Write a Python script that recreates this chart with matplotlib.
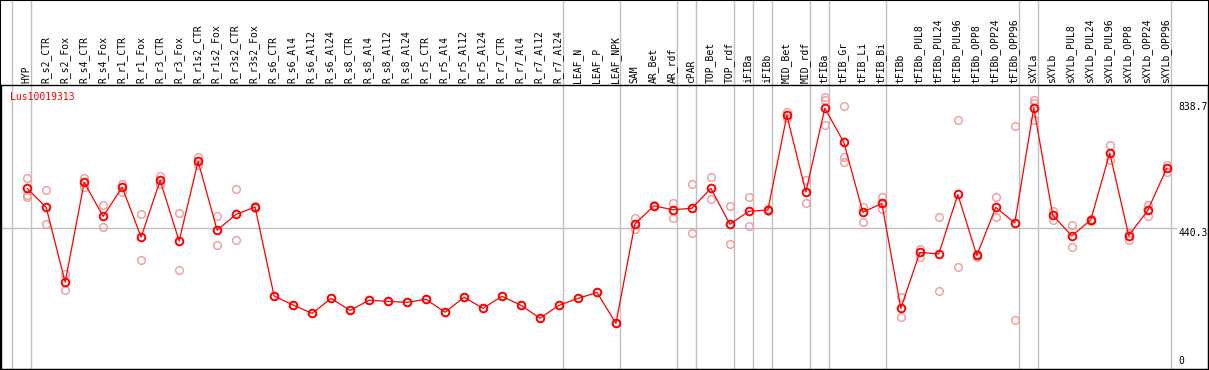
import matplotlib
matplotlib.use('Agg')
import matplotlib.pyplot as plt
import matplotlib.transforms as mtransforms
from matplotlib.patches import Rectangle

plt.rcParams['font.family'] = ['DejaVu Sans Mono']

# sample names along the top
samples = ['HYP', 'R_s2_CTR', 'R_s2_Fox', 'R_s4_CTR', 'R_s4_Fox', 'R_r1_CTR', 'R_r1_Fox',
           'R_r3_CTR', 'R_r3_Fox', 'R_r1s2_CTR', 'R_r1s2_Fox', 'R_r3s2_CTR', 'R_r3s2_Fox',
           'R_s6_CTR', 'R_s6_Al4', 'R_s6_Al12', 'R_s6_Al24', 'R_s8_CTR', 'R_s8_Al4',
           'R_s8_Al12', 'R_s8_Al24', 'R_r5_CTR', 'R_r5_Al4', 'R_r5_Al12', 'R_r5_Al24',
           'R_r7_CTR', 'R_r7_Al4', 'R_r7_Al12', 'R_r7_Al24', 'LEAF_N', 'LEAF_P', 'LEAF_NPK',
           'SAM', 'AR_Bet', 'AR_rdf', 'cPAR', 'TOP_Bet', 'TOP_rdf', 'iFIBa', 'iFIBb',
           'MID_Bet', 'MID_rdf', 'tFIBa', 'tFIB_Gr', 'tFIB_Li', 'tFIB_Bi', 'tFIBb',
           'tFIBb_PUL8', 'tFIBb_PUL24', 'tFIBb_PUL96', 'tFIBb_OPP8', 'tFIBb_OPP24',
           'tFIBb_OPP96', 'sXYLa', 'sXYLb', 'sXYLb_PUL8', 'sXYLb_PUL24', 'sXYLb_PUL96',
           'sXYLb_OPP8', 'sXYLb_OPP24', 'sXYLb_OPP96']

# number of samples in each tissue group (grey separators)
group_sizes = [1, 28, 3, 3, 1, 2, 1, 1, 2, 1, 3, 7, 1, 7]

# mean expression per sample
means = [571, 508, 259, 591, 478, 575, 409, 598, 396, 661, 432, 485, 509,
         213, 183, 155, 205, 165, 199, 195, 192, 202, 159, 209, 172, 212, 182, 139, 182,
         205, 225, 122,
         453, 513, 500, 505, 571, 452, 495, 499, 814, 559, 838, 724, 492, 521,
         172, 358, 353, 551, 348, 508, 456, 838, 482, 413, 466, 689, 414, 498, 638]

# individual replicates per sample
replicates = [[605, 549, 543], [566, 452], [285, 234], [607, 577], [515, 442],
              [586, 560], [485, 332], [613, 585], [488, 299], [675, 650], [478, 382],
              [568, 398], [511, 507],
              [213], [183], [155], [205], [165], [199], [195], [192], [202], [159],
              [209], [172], [212], [182], [139], [182], [205], [225], [122],
              [472, 435, 453], [515, 511], [521, 474], [585, 422], [608, 535],
              [514, 385], [541, 445], [503, 495], [824, 805], [599, 521],
              [874, 865, 781], [844, 677, 659], [510, 458], [541, 501],
              [209, 142], [371, 344], [475, 230], [798, 310], [352, 344],
              [542, 475], [778, 133], [865, 856, 798], [496, 467], [449, 375],
              [470, 462], [714, 665], [424, 400], [517, 480], [648, 627]]

gene = 'Lus10019313'
ref_values = [0, 440.3, 838.7]

W, H = 1209, 370
fig = plt.figure(figsize=(W / 100, H / 100), dpi=100)
ax = fig.add_axes([0.5 / W, 1 / H, 1207.5 / W, 284 / H])

x = list(range(len(samples)))

# grey separators between groups, running through the label area too
ytop = 369 / 284
bounds = [-1]
for g in group_sizes:
    bounds.append(bounds[-1] + g)
for b in bounds:
    ax.axvline(b + 0.2, ymin=0, ymax=ytop, color='#c0c0c0', lw=1, clip_on=False, zorder=1)
ax.axhline(ref_values[1], xmin=0, xmax=1176 / 1208, color='#c0c0c0', lw=1, zorder=1)

for i, reps in enumerate(replicates):
    ax.plot([i] * len(reps), reps, 'o', ms=5.5, mfc='none', mec='#f09a9a', mew=1.0, zorder=2)
ax.plot(x, means, '-', color='red', lw=0.9, zorder=3)
ax.plot(x, means, 'o', ms=5.5, mfc='none', mec='red', mew=1.4, zorder=4)

ax.set_xlim(-26.7 / 19, (1208 - 26.7) / 19)
ax.set_ylim((360 - 369) / 0.30046, (360 - 85) / 0.30046)
ax.set_xticks([])
ax.set_yticks([])
for s in ax.spines.values():
    s.set_color('black')
    s.set_linewidth(1)

# sample labels above the plot
trans = mtransforms.blended_transform_factory(ax.transData, ax.transAxes)
for i, name in enumerate(samples):
    ax.annotate(name, (i, 1), xycoords=trans, xytext=(-0.5, 1.5), textcoords='offset points',
                rotation=90, ha='center', va='bottom', fontsize=7, color='black',
                annotation_clip=False)

# value labels on the right
offsets = [-1, -3.5, 1]
for v, off in zip(ref_values, offsets):
    ax.annotate('%g' % v if v == 0 else '%.1f' % v, (60.6, v), xytext=(0, off),
                textcoords='offset points', ha='left', va='center', fontsize=7,
                color='black', annotation_clip=False)

fig.text(10 / W, (H - 97) / H, gene, color='red', fontsize=7, ha='left', va='center')

fig.patches.append(Rectangle((0, 0), 1, 1, transform=fig.transFigure, fill=False,
                             edgecolor='black', lw=1.5))

fig.savefig('out.png', dpi=100)
